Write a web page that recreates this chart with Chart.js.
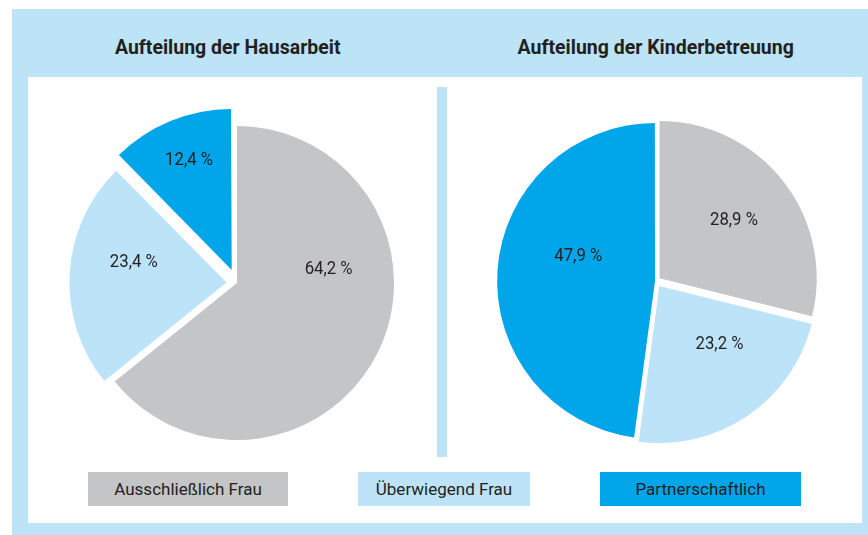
<!DOCTYPE html>
<html lang="de">
<head>
<meta charset="utf-8">
<script src="https://cdn.jsdelivr.net/npm/chart.js@4.4.1/dist/chart.umd.min.js"></script>
<style>
  body { margin: 0; background: #fff; width: 868px; height: 535px; overflow: hidden; position: relative;
         font-family: Roboto, "Liberation Sans", sans-serif; color: #231f20; }
  #frame { position: absolute; left: 12px; top: 9px; width: 856px; height: 526px; background: #bde3f6; }
  #panel { position: absolute; left: 28px; top: 77px; width: 834px; height: 446px; background: #fff; }
  .title { position: absolute; top: 35px; width: 400px; text-align: center; font-weight: bold; font-size: 20px; }
  .title span { display: inline-block; transform: scaleX(0.975); white-space: nowrap; }
  #divider { position: absolute; left: 437px; top: 87px; width: 10px; height: 370px; background: #bde3f6; }
  .pie { position: absolute; width: 380px; height: 380px; }
  .key { position: absolute; top: 472px; height: 34px; line-height: 34px; text-align: center; font-size: 17px; }
</style>
</head>
<body>
<div id="frame"></div>
<div id="panel"></div>
<div class="title" style="left:28px"><span>Aufteilung der Hausarbeit</span></div>
<div class="title" style="left:456px"><span>Aufteilung der Kinderbetreuung</span></div>
<div id="divider"></div>
<canvas id="hausarbeit" class="pie" width="380" height="380" style="left:47px;top:93px"></canvas>
<canvas id="kinder" class="pie" width="380" height="380" style="left:466px;top:91px"></canvas>
<div id="keys"></div>
<script>
const categories = ["Ausschließlich Frau", "Überwiegend Frau", "Partnerschaftlich"];
const hausarbeit = [64.2, 23.4, 12.4];
const kinderbetreuung = [28.9, 23.2, 47.9];

const colors = ["#c4c5c7", "#bce3f7", "#00a6e9"];

// label placement: angle shift from slice middle (deg), distance as share of radius
const hausLabelPos = [[-34, 0.59], [8, 0.67], [1, 0.84]];
const kindLabelPos = [[0, 0.63], [-11, 0.57], [14, 0.52]];

const fmt = (v) => v.toFixed(1).replace(".", ",") + " %";

const sliceLabels = {
  id: "sliceLabels",
  afterDatasetsDraw(chart, args, opts) {
    const ctx = chart.ctx;
    const meta = chart.getDatasetMeta(0);
    const values = chart.data.datasets[0].data;
    meta.data.forEach((arc, i) => {
      const p = arc.getProps(["x", "y", "startAngle", "endAngle", "outerRadius"], true);
      const pos = opts.pos[i];
      const a = (p.startAngle + p.endAngle) / 2 + pos[0] * Math.PI / 180;
      const r = p.outerRadius * pos[1];
      ctx.save();
      ctx.translate(p.x + Math.cos(a) * r, p.y + Math.sin(a) * r);
      ctx.scale(0.93, 1);
      ctx.font = "18px Roboto, sans-serif";
      ctx.fillStyle = "#231f20";
      ctx.textAlign = "center";
      ctx.textBaseline = "middle";
      ctx.fillText(fmt(values[i]), 0, 0);
      ctx.restore();
    });
  },
};

const makePie = (id, values, offsets, labelPos) => {
  const ctx = document.getElementById(id).getContext("2d");
  return new Chart(ctx, {
    type: "pie",
    data: {
      labels: categories,
      datasets: [{
        data: values,
        backgroundColor: colors,
        borderWidth: 0,
        offset: offsets,
        radius: 157,
      }],
    },
    options: {
      responsive: false,
      animation: false,
      layout: { padding: 0 },
      plugins: {
        legend: { display: false },
        tooltip: { enabled: false },
        sliceLabels: { pos: labelPos },
      },
    },
    plugins: [sliceLabels],
  });
};

makePie("hausarbeit", hausarbeit, [0, 42, 56], hausLabelPos);
makePie("kinder", kinderbetreuung, [18, 24, 4], kindLabelPos);

// legend boxes
const keyBoxes = [[88, 200], [358, 172], [600, 201]];
const keys = document.getElementById("keys");
categories.forEach((name, i) => {
  const d = document.createElement("div");
  d.className = "key";
  d.style.left = keyBoxes[i][0] + "px";
  d.style.width = keyBoxes[i][1] + "px";
  d.style.background = colors[i];
  d.textContent = name;
  keys.appendChild(d);
});
</script>
</body>
</html>
